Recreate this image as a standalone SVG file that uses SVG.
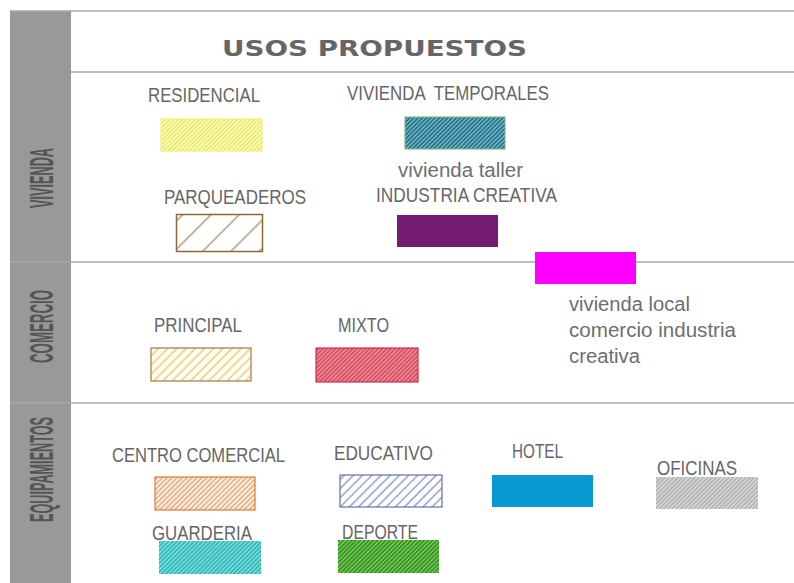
<svg xmlns="http://www.w3.org/2000/svg" width="794" height="583" viewBox="0 0 794 583">
<style>
.lbl{font-family:"Liberation Sans","DejaVu Sans",sans-serif;font-size:21px;fill:#666}
.low{font-family:"Liberation Sans","DejaVu Sans",sans-serif;font-size:19.5px;fill:#6e6e6e}
.side{font-family:"Liberation Sans","DejaVu Sans",sans-serif;font-size:34px;fill:#555;font-weight:bold}
.title{font-family:"DejaVu Sans","Liberation Sans",sans-serif;font-size:21.5px;font-weight:bold;fill:#666}
.sep{stroke:#a8a8a8;stroke-width:1.5}
</style>
<defs>
<pattern id="pYel" width="3" height="3" patternUnits="userSpaceOnUse" patternTransform="rotate(45)"><rect width="3" height="3" fill="#fafab8"/><line x1="0.5" y1="0" x2="0.5" y2="3" stroke="#e4e44c" stroke-width="1"/></pattern>
<pattern id="pTeal" width="3" height="3" patternUnits="userSpaceOnUse" patternTransform="rotate(45)"><rect width="3" height="3" fill="#8cc6cc"/><line x1="1" y1="0" x2="1" y2="3" stroke="#1b6e8a" stroke-width="1.8"/></pattern>
<pattern id="pBrown" width="20" height="20" patternUnits="userSpaceOnUse" patternTransform="rotate(45)"><rect width="20" height="20" fill="#fff"/><line x1="1" y1="0" x2="1" y2="20" stroke="#8b6a3a" stroke-width="1"/></pattern>
<pattern id="pPrin" width="6.5" height="6.5" patternUnits="userSpaceOnUse" patternTransform="rotate(45)"><rect width="6.5" height="6.5" fill="#fffdf2"/><line x1="1" y1="0" x2="1" y2="6.5" stroke="#e2b545" stroke-width="1"/></pattern>
<pattern id="pMix" width="3" height="3" patternUnits="userSpaceOnUse" patternTransform="rotate(45)"><rect width="3" height="3" fill="#f0a0aa"/><line x1="1" y1="0" x2="1" y2="3" stroke="#d8485c" stroke-width="1.8"/></pattern>
<pattern id="pCC" width="3.5" height="3.5" patternUnits="userSpaceOnUse" patternTransform="rotate(45)"><rect width="3.5" height="3.5" fill="#fdf0e4"/><line x1="1" y1="0" x2="1" y2="3.5" stroke="#d88a4a" stroke-width="1"/></pattern>
<pattern id="pEdu" width="6.5" height="6.5" patternUnits="userSpaceOnUse" patternTransform="rotate(45)"><rect width="6.5" height="6.5" fill="#fff"/><line x1="1" y1="0" x2="1" y2="6.5" stroke="#6070a8" stroke-width="1"/></pattern>
<pattern id="pGua" width="3" height="3" patternUnits="userSpaceOnUse" patternTransform="rotate(45)"><rect width="3" height="3" fill="#9ee0e0"/><line x1="1" y1="0" x2="1" y2="3" stroke="#2abcbc" stroke-width="1.9"/></pattern>
<pattern id="pDep" width="3" height="3" patternUnits="userSpaceOnUse" patternTransform="rotate(45)"><rect width="3" height="3" fill="#8cd070"/><line x1="1" y1="0" x2="1" y2="3" stroke="#33951c" stroke-width="1.9"/></pattern>
<pattern id="pOfi" width="3" height="3" patternUnits="userSpaceOnUse" patternTransform="rotate(45)"><rect width="3" height="3" fill="#e0e0e0"/><line x1="1" y1="0" x2="1" y2="3" stroke="#a8a8a8" stroke-width="1.5"/></pattern>
</defs>
<rect width="794" height="583" fill="#fff"/>
<g id="frame">
<rect x="10" y="11" width="61" height="572" fill="#999"/>
<line class="sep" x1="10" y1="11" x2="794" y2="11"/>
<line class="sep" x1="71" y1="72" x2="794" y2="72"/>
<line class="sep" x1="10" y1="262" x2="794" y2="262"/>
<line class="sep" x1="10" y1="403" x2="794" y2="403"/>
<text class="side" transform="translate(53,208) rotate(-90)" textLength="60" lengthAdjust="spacingAndGlyphs">VIVIENDA</text>
<text class="side" transform="translate(53,363) rotate(-90)" textLength="73" lengthAdjust="spacingAndGlyphs">COMERCIO</text>
<text class="side" transform="translate(53,522) rotate(-90)" textLength="105" lengthAdjust="spacingAndGlyphs">EQUIPAMIENTOS</text>
<text class="title" x="222" y="56" textLength="305" lengthAdjust="spacingAndGlyphs">USOS PROPUESTOS</text>
</g>
<g id="residencial">
<text class="lbl" x="148" y="102" textLength="112" lengthAdjust="spacingAndGlyphs">RESIDENCIAL</text>
<rect x="161" y="119" width="101" height="32" fill="url(#pYel)" stroke="#eeee70" stroke-width="1"/>
</g>
<g id="vivienda-temporales">
<text class="lbl" x="347" y="100" textLength="202" lengthAdjust="spacingAndGlyphs" xml:space="preserve">VIVIENDA  TEMPORALES</text>
<rect x="405" y="117" width="100" height="32" fill="url(#pTeal)" stroke="#7ab07a" stroke-width="1"/>
</g>
<g id="parqueaderos">
<text class="lbl" x="164" y="204" textLength="142" lengthAdjust="spacingAndGlyphs">PARQUEADEROS</text>
<rect x="176.5" y="214.5" width="86" height="37" fill="url(#pBrown)" stroke="#8b6a3a" stroke-width="1.5"/>
</g>
<g id="industria-creativa">
<text class="low" x="398" y="177" textLength="125" lengthAdjust="spacingAndGlyphs">vivienda taller</text>
<text class="lbl" x="376" y="202" textLength="181" lengthAdjust="spacingAndGlyphs">INDUSTRIA CREATIVA</text>
<rect x="397" y="215" width="101" height="32" fill="#741c6f"/>
</g>
<g id="vivienda-local">
<rect x="535" y="252" width="101" height="32" fill="#ff00ff"/>
<text class="low" x="569" y="311" textLength="121" lengthAdjust="spacingAndGlyphs">vivienda local</text>
<text class="low" x="569" y="337" textLength="167" lengthAdjust="spacingAndGlyphs">comercio industria</text>
<text class="low" x="569" y="363" textLength="71" lengthAdjust="spacingAndGlyphs">creativa</text>
</g>
<g id="principal">
<text class="lbl" x="154" y="332" textLength="88" lengthAdjust="spacingAndGlyphs">PRINCIPAL</text>
<rect x="151" y="348" width="100" height="33" fill="url(#pPrin)" stroke="#a07a48" stroke-width="1.2"/>
</g>
<g id="mixto">
<text class="lbl" x="338" y="332" textLength="51" lengthAdjust="spacingAndGlyphs">MIXTO</text>
<rect x="316" y="348" width="102" height="34" fill="url(#pMix)" stroke="#c8304a" stroke-width="1.2"/>
</g>
<g id="centro-comercial">
<text class="lbl" x="112" y="462" textLength="173" lengthAdjust="spacingAndGlyphs">CENTRO COMERCIAL</text>
<rect x="155" y="477" width="100" height="33" fill="url(#pCC)" stroke="#e07a30" stroke-width="1.2"/>
</g>
<g id="educativo">
<text class="lbl" x="334" y="460" textLength="99" lengthAdjust="spacingAndGlyphs">EDUCATIVO</text>
<rect x="340" y="475" width="102" height="32" fill="url(#pEdu)" stroke="#6070a8" stroke-width="1.2"/>
</g>
<g id="hotel">
<text class="lbl" x="512" y="458" textLength="51" lengthAdjust="spacingAndGlyphs">HOTEL</text>
<rect x="492" y="475" width="101" height="32" fill="#0a9ad2"/>
</g>
<g id="oficinas">
<text class="lbl" x="657" y="475" textLength="80" lengthAdjust="spacingAndGlyphs">OFICINAS</text>
<rect x="656" y="477" width="102" height="32" fill="url(#pOfi)"/>
</g>
<g id="guarderia">
<text class="lbl" x="152" y="540" textLength="100" lengthAdjust="spacingAndGlyphs">GUARDERIA</text>
<rect x="159" y="541" width="102" height="33" fill="url(#pGua)"/>
</g>
<g id="deporte">
<text class="lbl" x="342" y="539" textLength="76" lengthAdjust="spacingAndGlyphs">DEPORTE</text>
<rect x="338" y="540" width="101" height="33" fill="url(#pDep)"/>
</g>
</svg>
